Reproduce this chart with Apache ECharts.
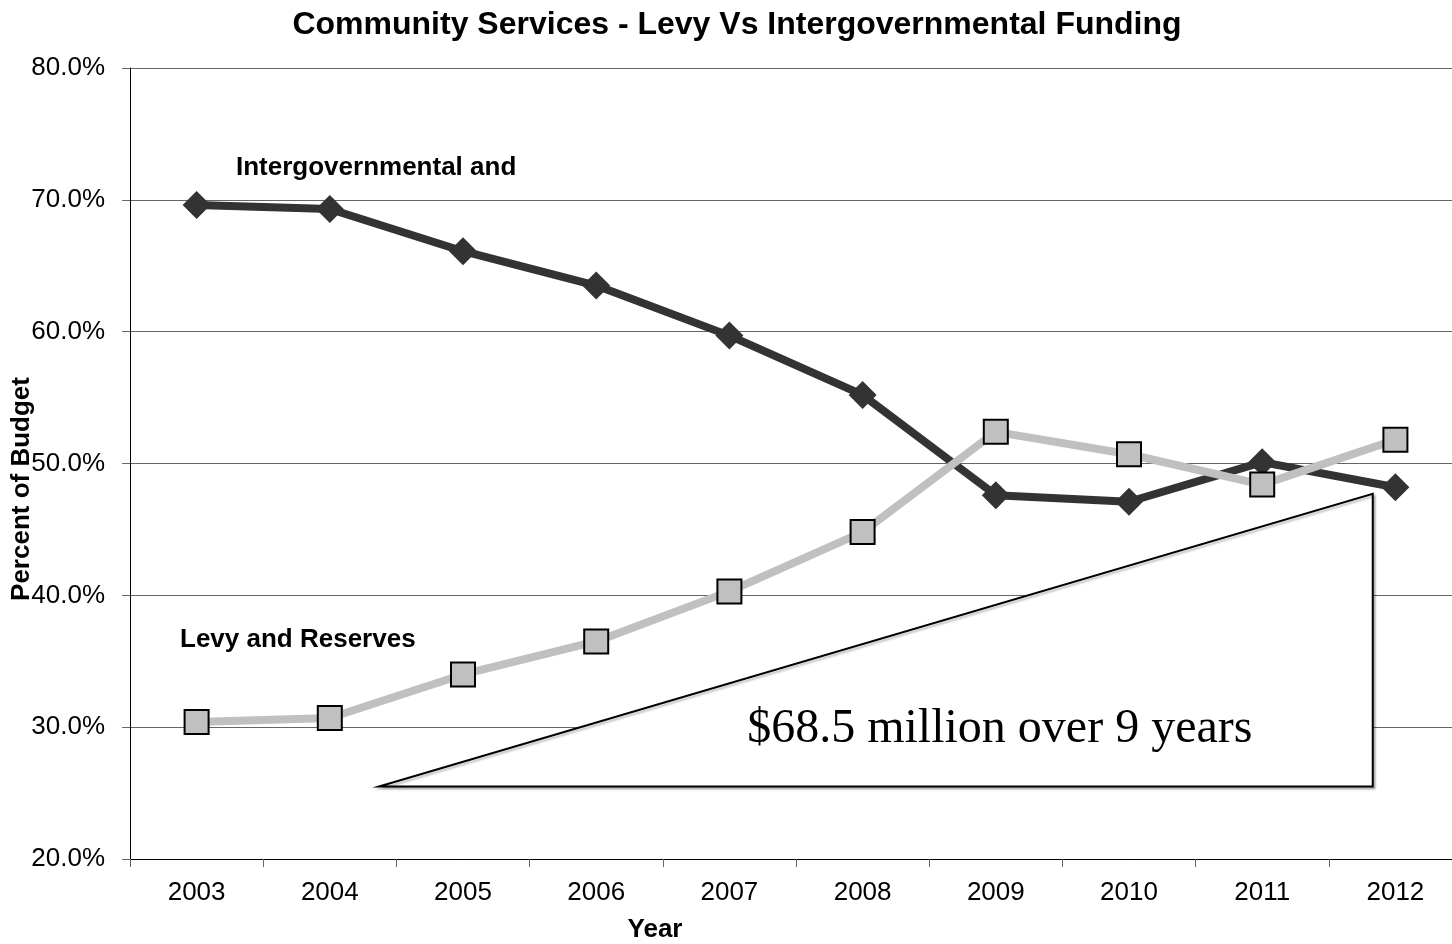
<!DOCTYPE html>
<html>
<head>
<meta charset="utf-8">
<script src="https://cdn.jsdelivr.net/npm/echarts@6/dist/echarts.min.js"></script>
<style>
  html, body { margin: 0; padding: 0; background: #fff; overflow: hidden; }
  #chart { width: 1462px; height: 944px; }
</style>
</head>
<body>
<div id="chart"></div>
<script>
const years = ["2003", "2004", "2005", "2006", "2007", "2008", "2009", "2010", "2011", "2012"];
const intergov = [69.6, 69.3, 66.1, 63.5, 59.7, 55.2, 47.6, 47.1, 50.1, 48.2];
const levy = [30.4, 30.7, 34.0, 36.5, 40.3, 44.8, 52.4, 50.7, 48.4, 51.8];
// annotation triangle, in (category index, percent)
const triangle = [[1.37, 25.5], [8.83, 47.7], [8.83, 25.5]];
const noteText = "$68.5 million over 9 years";
const notePos = [6.03, 29.8];

// the plot runs a little past the right edge of the window, as in the original
const chart = echarts.init(document.getElementById("chart"));
const font = "Liberation Sans, Arial, sans-serif";

chart.setOption({
  animation: false,
  title: {
    text: "Community Services - Levy Vs Intergovernmental Funding",
    left: 732,
    textAlign: "center",
    top: 4,
    textStyle: { fontFamily: font, fontSize: 32, fontWeight: "bold", color: "#000" }
  },
  grid: { left: 130, top: 68, bottom: 85, right: 0, outerBoundsMode: "none" },
  xAxis: [
    {
      type: "category",
      data: years,
      name: "Year",
      nameLocation: "middle",
      nameGap: 58,
      nameMoveOverlap: false,
      nameTextStyle: {
        fontFamily: font, fontSize: 26, fontWeight: "bold", color: "#000",
        padding: [0, 282, 0, 0]
      },
      axisLine: { lineStyle: { color: "#000", width: 1 } },
      axisTick: { show: true, length: 8, lineStyle: { color: "#666" } },
      axisLabel: { fontFamily: font, fontSize: 26, color: "#000", margin: 21 }
    },
    { type: "value", min: -0.5, max: 9.5, show: false }
  ],
  yAxis: {
    type: "value",
    min: 20,
    max: 80,
    interval: 10,
    name: "Percent of Budget",
    nameLocation: "middle",
    nameGap: 95,
    nameRotate: 90,
    nameMoveOverlap: false,
    nameTextStyle: {
      fontFamily: font, fontSize: 26, fontWeight: "bold", color: "#000",
      padding: [0, 51, 0, 0]
    },
    axisLine: { show: true, onZero: false, lineStyle: { color: "#000", width: 1 } },
    axisTick: { show: true, length: 8, lineStyle: { color: "#666" } },
    axisLabel: {
      fontFamily: font, fontSize: 26, color: "#000", margin: 25,
      formatter: v => v.toFixed(1) + "%"
    },
    splitLine: { lineStyle: { color: "#666", width: 1 } }
  },
  series: [
    {
      type: "custom",
      xAxisIndex: 1,
      z: 1,
      silent: true,
      data: [0],
      renderItem: (params, api) => {
        const pts = triangle.map(p => api.coord(p));
        const tp = api.coord(notePos);
        return {
          type: "group",
          children: [
            {
              type: "polygon",
              shape: { points: pts },
              style: {
                fill: "#fff", stroke: "#000", lineWidth: 2,
                shadowColor: "rgba(0,0,0,0.25)", shadowOffsetX: 2, shadowOffsetY: 2, shadowBlur: 2
              }
            },
            {
              type: "text",
              x: tp[0], y: tp[1],
              style: {
                text: noteText, fill: "#000",
                font: "48px 'Liberation Serif', 'Times New Roman', serif",
                align: "center", verticalAlign: "middle"
              }
            }
          ]
        };
      }
    },
    {
      name: "Intergovernmental and",
      type: "line",
      data: intergov,
      z: 3,
      symbol: "diamond",
      symbolSize: 28,
      lineStyle: { color: "#333", width: 8 },
      itemStyle: { color: "#333" }
    },
    {
      name: "Levy and Reserves",
      type: "line",
      data: levy,
      z: 4,
      symbol: "rect",
      symbolSize: 24,
      lineStyle: { color: "#c0c0c0", width: 8 },
      itemStyle: { color: "#c0c0c0", borderColor: "#000", borderWidth: 2 }
    }
  ],
  graphic: [
    {
      type: "text", left: 236, top: 155,
      style: { text: "Intergovernmental and", font: "bold 26px " + font, fill: "#000" }
    },
    {
      type: "text", left: 180, top: 627,
      style: { text: "Levy and Reserves", font: "bold 26px " + font, fill: "#000" }
    }
  ]
});
</script>
</body>
</html>
